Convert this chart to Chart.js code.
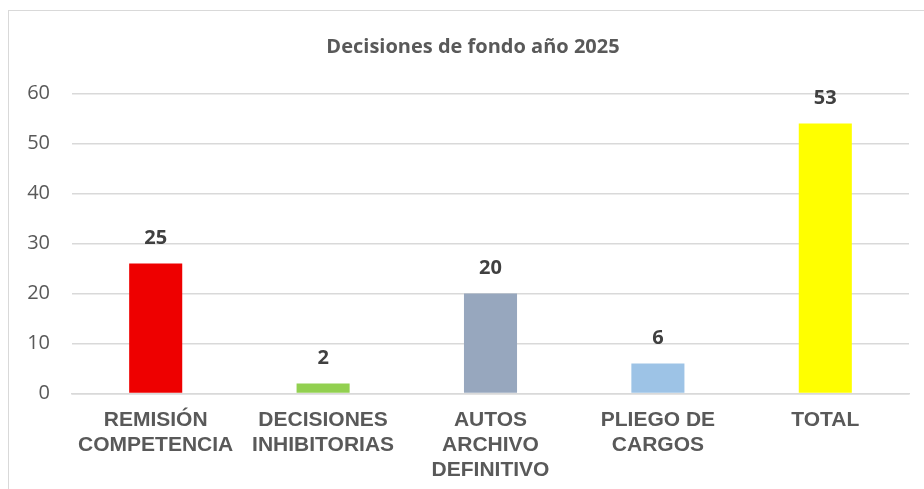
<!DOCTYPE html>
<html>
<head>
<meta charset="utf-8">
<script src="https://cdn.jsdelivr.net/npm/chart.js@4"></script>
<style>
  html, body { margin: 0; padding: 0; background: #fff; overflow: hidden; }
  #frame {
    position: absolute; left: 8px; top: 10px;
    width: 928px; height: 478px;
    border-left: 1px solid #d9d9d9; border-top: 1px solid #d9d9d9;
  }
  canvas { display: block; }
</style>
</head>
<body>
<div id="frame"><canvas id="decisionesChart" width="928" height="478"></canvas></div>
<script>
// Data
const categories = [
  ['REMISIÓN', 'COMPETENCIA'],
  ['DECISIONES', 'INHIBITORIAS'],
  ['AUTOS', 'ARCHIVO', 'DEFINITIVO'],
  ['PLIEGO DE', 'CARGOS'],
  ['TOTAL']
];
// bar heights as drawn (slightly above the printed labels in the original)
const barValues = [26, 2, 20, 6, 54];
// numbers printed above each bar
const valueLabels = ['25', '2', '20', '6', '53'];
const barColors = ['#ee0000', '#92d050', '#97a7be', '#9dc3e6', '#ffff00'];
const yTicks = [0, 10, 20, 30, 40, 50, 60];

// simple value label plugin (no datalabels plugin available)
const valueLabelPlugin = {
  id: 'valueLabels',
  afterDatasetsDraw(chart) {
    const ctx = chart.ctx;
    const meta = chart.getDatasetMeta(0);
    ctx.save();
    ctx.font = 'bold 20px "Open Sans"';
    ctx.fillStyle = '#404040';
    ctx.textAlign = 'center';
    ctx.textBaseline = 'middle';
    meta.data.forEach((bar, i) => {
      ctx.fillText(valueLabels[i], bar.x, bar.y - 25);
    });
    ctx.restore();
  }
};

const ctx = document.getElementById('decisionesChart').getContext('2d');
new Chart(ctx, {
  type: 'bar',
  data: {
    labels: categories,
    datasets: [{
      data: barValues,
      backgroundColor: barColors,
      borderWidth: 0,
      barPercentage: 0.317,
      categoryPercentage: 1
    }]
  },
  options: {
    responsive: false,
    animation: false,
    layout: { padding: 0 },
    plugins: {
      legend: { display: false },
      tooltip: { enabled: false },
      title: {
        display: true,
        text: 'Decisiones de fondo año 2025',
        color: '#595959',
        font: { family: '"Open Sans"', size: 20, weight: 'bold', lineHeight: 1.2 },
        padding: { top: 24, bottom: 34.5 }
      }
    },
    scales: {
      y: {
        min: 0,
        max: 60,
        afterBuildTicks: (scale) => { scale.ticks = yTicks.map(v => ({ value: v })); },
        afterFit: (scale) => { scale.width = 63; },
        border: { display: false },
        grid: { color: '#d9d9d9', lineWidth: 1.5, drawTicks: false },
        ticks: {
          color: '#595959',
          padding: 22,
          font: { family: '"Open Sans"', size: 20 }
        }
      },
      // empty right-hand spacer so the plot ends where the original does
      spacer: {
        position: 'right',
        afterFit: (scale) => { scale.width = 28; },
        border: { display: false },
        grid: { display: false },
        ticks: { display: false }
      },
      x: {
        afterFit: (scale) => { scale.height = 95.5; },
        border: { color: '#d9d9d9', width: 1.5 },
        grid: { display: false, drawTicks: false },
        ticks: {
          color: '#595959',
          padding: 14,
          maxRotation: 0,
          autoSkip: false,
          font: { family: '"Liberation Sans"', size: 21, weight: 'bold', lineHeight: 1.2 }
        }
      }
    }
  },
  plugins: [valueLabelPlugin]
});
</script>
</body>
</html>
